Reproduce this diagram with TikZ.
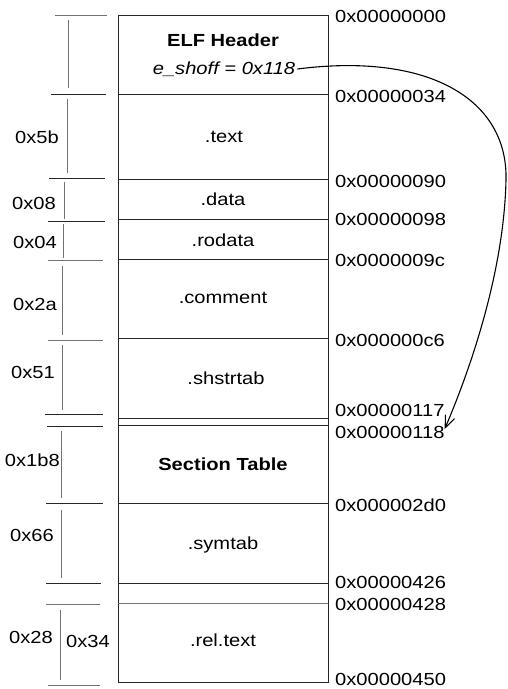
\documentclass[tikz,border=0pt]{standalone}
\usepackage{fontspec}
\setmainfont{Liberation Sans}[FakeStretch=1.15]
\usetikzlibrary{arrows.meta}
\begin{document}
\begin{tikzpicture}[x=1pt,y=-1pt,
  line/.style={draw=black!85,line width=0.8pt},
  faint/.style={draw=black!55,line width=0.6pt},
  lbl/.style={font=\fontsize{17.5}{20}\selectfont,inner sep=0pt},
  hexl/.style={lbl,anchor=west},
  sizel/.style={lbl,anchor=east},
  secl/.style={lbl},
  boldl/.style={lbl,font=\fontsize{17.5}{20}\selectfont\bfseries}]
\useasboundingbox (0,0) rectangle (507,689);
% box
\draw[line] (118,15) rectangle (328,682);
\foreach \y in {94,179,219,259,338,418,425,503,583}
  \draw[line] (118,\y) -- (328,\y);
\draw[faint] (118,603) -- (328,603);
% section labels
\node[boldl] (elf) at (223,40) {ELF Header};
\node[lbl,font=\fontsize{17.5}{20}\selectfont\itshape] (eshoff) at (224,69) {e\_shoff = 0x118};
\node[secl] (text) at (224,137) {.text};
\node[secl] (data) at (223,199) {.data};
\node[secl] (rodata) at (223,240) {.rodata};
\node[secl] (comment) at (223,298) {.comment};
\node[secl] (shstrtab) at (226,378) {.shstrtab};
\node[boldl] (sectab) at (223,464) {Section Table};
\node[secl] (symtab) at (223,545) {.symtab};
\node[secl] (reltext) at (223,640) {.rel.text};
% hex addresses
\node[hexl] (h000) at (335,16) {0x00000000};
\node[hexl] (h034) at (335,96) {0x00000034};
\node[hexl] (h090) at (335,181) {0x00000090};
\node[hexl] (h098) at (335,219) {0x00000098};
\node[hexl] (h09c) at (335,260) {0x0000009c};
\node[hexl] (h0c6) at (335,340) {0x000000c6};
\node[hexl] (h117) at (335,410) {0x00000117};
\node[hexl] (h118) at (335,432) {0x00000118};
\node[hexl] (h2d0) at (335,505) {0x000002d0};
\node[hexl] (h426) at (335,582) {0x00000426};
\node[hexl] (h428) at (335,604) {0x00000428};
\node[hexl] (h450) at (335,679) {0x00000450};
% left ticks
\draw[faint] (55,15) -- (107,15);
\draw[line] (51,94) -- (106,94);
\draw[line] (49,178) -- (105,178);
\draw[line] (48,221) -- (105,221);
\draw[faint] (48,260) -- (103,260);
\draw[faint] (48,340) -- (103,340);
\draw[line] (45,414) -- (103,414);
\draw[line] (47,426) -- (103,426);
\draw[line] (46,503) -- (103,503);
\draw[line] (46,583) -- (101,583);
\draw[faint] (46,604) -- (100,604);
\draw[faint] (48,685) -- (100,685);
% left verticals
\draw[faint] (68,20) -- (68,88);
\draw[faint] (67,99) -- (67,173);
\draw[faint] (64,182) -- (64,219);
\draw[faint] (63,224) -- (63,258);
\draw[faint] (62,266) -- (62,335);
\draw[faint] (62,345) -- (62,410);
\draw[faint] (61,431) -- (61,498);
\draw[faint] (61,510) -- (61,578);
\draw[faint] (60,610) -- (60,680);
% size labels
\node[sizel] (s5b) at (59,137) {0x5b};
\node[sizel] (s08) at (56,203) {0x08};
\node[sizel] (s04) at (57,242) {0x04};
\node[sizel] (s2a) at (57,304) {0x2a};
\node[sizel] (s51) at (55,372) {0x51};
\node[sizel] (s1b8) at (60,460) {0x1b8};
\node[sizel] (s66) at (54,535) {0x66};
\node[sizel] (s28) at (53,637) {0x28};
\node[lbl,anchor=west] (s34) at (66,641) {0x34};
% arrow
\draw[draw=black,line width=1.1pt,-{Straight Barb[length=12pt,width=10pt,line width=1.1pt]}]
  ([xshift=2pt]eshoff.east) .. controls (430,52) and (508,100) .. (506,180)
  .. controls (504,270) and (472,365) .. ([yshift=3pt]h118.east);
\end{tikzpicture}
\end{document}
